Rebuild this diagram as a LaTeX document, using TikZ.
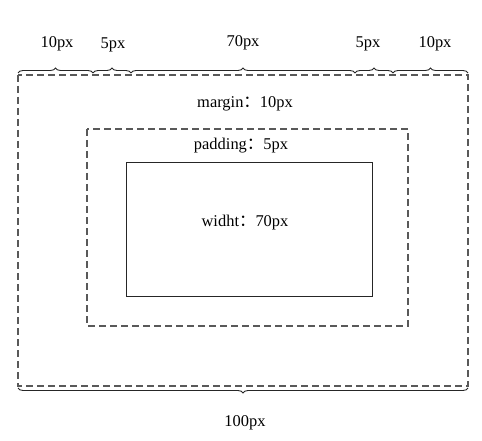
\documentclass[tikz,border=0pt]{standalone}
\usepackage{fontspec}
\setmainfont{Liberation Serif}
\newfontfamily\cjk{Noto Sans CJK SC}
\usetikzlibrary{positioning,decorations.pathreplacing}

\begin{document}
\begin{tikzpicture}[x=1bp,y=-1bp,
		font=\fontsize{16.5}{19}\selectfont,
		dashbox/.style={draw=black!65, line width=1.2bp, dash pattern=on 7bp off 4bp},
		solidbox/.style={draw=black!85, line width=1bp},
		brc/.style={draw=black!85, line width=0.9bp, decorate, decoration={brace, amplitude=5bp}},
		lbl/.style={inner sep=1bp}]
	\useasboundingbox (0,0) rectangle (482,441);
	% boxes
	\draw[dashbox] (18,75) rectangle (468,386);
	\draw[dashbox] (87,129) rectangle (408,326);
	\draw[solidbox] (126,163) rectangle (372,296);
	%
	\coordinate (b0) at (18,73);
	\coordinate (b1) at (93,73);
	\coordinate (b2) at (131,73);
	\coordinate (b3) at (355,73);
	\coordinate (b4) at (393,73);
	\coordinate (b5) at (468,73);
	\coordinate (c0) at (18,388);
	\coordinate (c1) at (468,388);
	%
	\draw[brc] (b0) -- (b1);
	\draw[brc] (b1) -- (b2);
	\draw[brc] (b2) -- (b3);
	\draw[brc] (b3) -- (b4);
	\draw[brc] (b4) -- (b5);
	\draw[brc] (c1) -- (c0);
	%
	\node[lbl] (m1) at (57,44) {10px};
	\node[lbl] (p1) at (113,45) {5px};
	\node[lbl] (w) at (243,43) {70px};
	\node[lbl] (p2) at (368,44) {5px};
	\node[lbl] (m2) at (435,44) {10px};
	\node[lbl] (total) at (245,423) {100px};
	%
	\node[lbl] (margin) at (245,104) {margin{\cjk ：}10px};
	\node[lbl] (padding) at (241,146) {padding{\cjk ：}5px};
	\node[lbl] (width) at (245,223) {widht{\cjk ：}70px};
\end{tikzpicture}
\end{document}
